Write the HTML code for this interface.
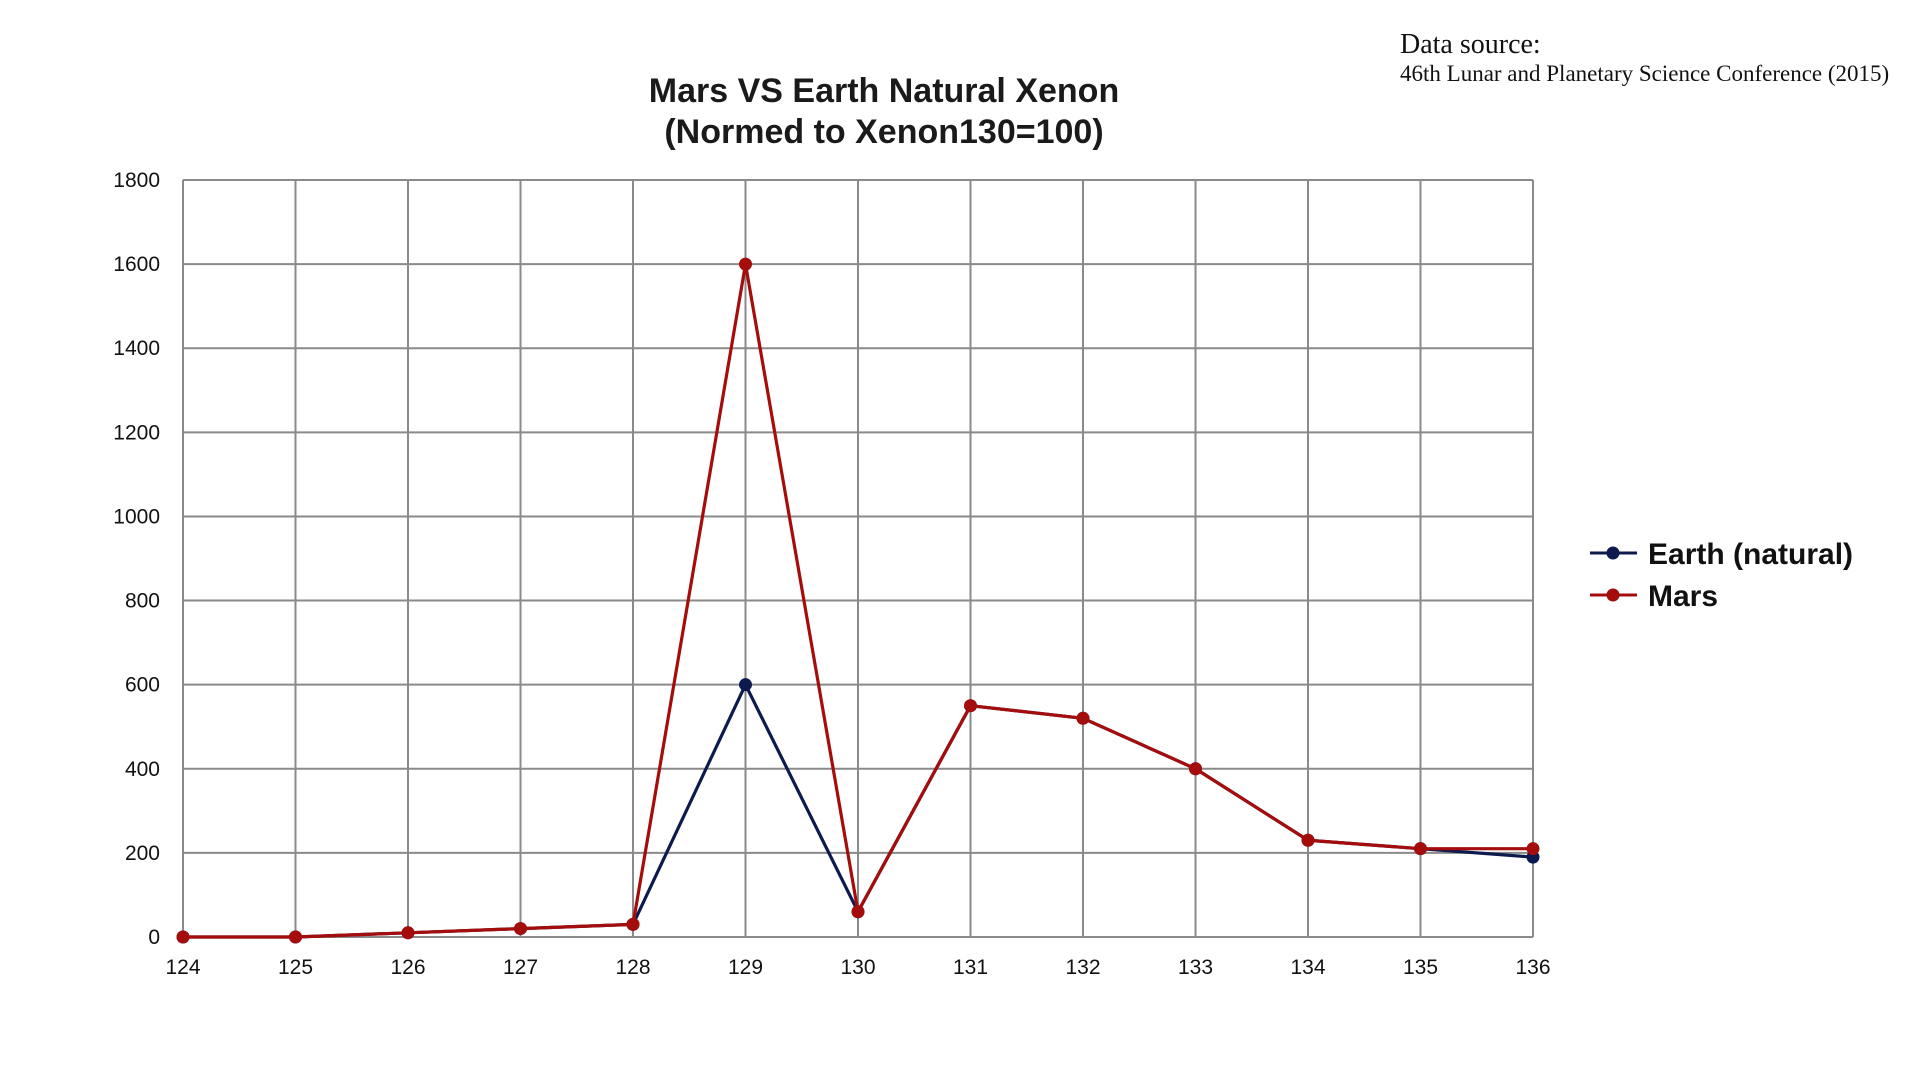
<!DOCTYPE html>
<html><head><meta charset="utf-8"><style>
html,body{margin:0;padding:0;background:#fff;width:1920px;height:1080px;overflow:hidden}
svg text{font-family:"Liberation Sans",sans-serif}
</style></head><body>
<svg id="chart" width="1920" height="1080" xmlns="http://www.w3.org/2000/svg">
<text x="884" y="102" text-anchor="middle" font-size="34" font-weight="bold" fill="#1a1a1a">Mars VS Earth Natural Xenon</text>
<text x="884" y="143" text-anchor="middle" font-size="34" font-weight="bold" fill="#1a1a1a">(Normed to Xenon130=100)</text>
<text x="1400" y="53" font-size="28" fill="#111" style="font-family:'Liberation Serif',serif">Data source:</text>
<text x="1400" y="81" font-size="23" fill="#111" style="font-family:'Liberation Serif',serif">46th Lunar and Planetary Science Conference (2015)</text>
<g id="grid"></g><g id="series"></g>
<g>
<line x1="1590" y1="553" x2="1637" y2="553" stroke="#0d1a4d" stroke-width="3"/><circle cx="1613" cy="553" r="6.5" fill="#0d1a4d"/>
<text x="1648" y="564" font-size="30" font-weight="bold" fill="#111">Earth (natural)</text>
<line x1="1590" y1="595" x2="1637" y2="595" stroke="#a50d0d" stroke-width="3"/><circle cx="1613" cy="595" r="6.5" fill="#a50d0d"/>
<text x="1648" y="606" font-size="30" font-weight="bold" fill="#111">Mars</text>
</g>
</svg>
<script>
const categories=[124,125,126,127,128,129,130,131,132,133,134,135,136];
const earthValues=[0,0,10,20,30,600,60,550,520,400,230,210,190];
const marsValues=[0,0,10,20,30,1600,60,550,520,400,230,210,210];
const yTicks=[0,200,400,600,800,1000,1200,1400,1600,1800];
const NS='http://www.w3.org/2000/svg';
const L=183,R=1533,T=180,B=937,YMAX=1800;
const xs=i=>L+(R-L)*i/(categories.length-1);
const ys=v=>B-(B-T)*v/YMAX;
function mk(tag,a,parent){const e=document.createElementNS(NS,tag);for(const k in a)e.setAttribute(k,a[k]);parent.appendChild(e);return e;}
const g=document.getElementById('grid');
yTicks.forEach(v=>{
  const l=mk('line',{x1:L,x2:R,y1:ys(v),y2:ys(v),stroke:'#8a8a8a','stroke-width':2},g);
  
  
  const t=mk('text',{x:160,y:ys(v)+7,'text-anchor':'end','font-size':21,fill:'#111'},g);
  t.textContent=v;
  
  
});
categories.forEach((c,i)=>{
  const l=mk('line',{x1:xs(i),x2:xs(i),y1:T,y2:B,stroke:'#8a8a8a','stroke-width':2},g);
  
  
  const t=mk('text',{x:xs(i),y:974,'text-anchor':'middle','font-size':21,fill:'#111'},g);
  t.textContent=c;
  
  
});
const s=document.getElementById('series');
[[earthValues,'#0d1a4d','earth'],[marsValues,'#a50d0d','mars']].forEach(([vals,col,nm])=>{
  const p=mk('polyline',{points:vals.map((v,i)=>xs(i)+','+ys(v)).join(' '),fill:'none',stroke:col,'stroke-width':3.2,'stroke-linejoin':'round'},s);
  
  
  vals.forEach((v,i)=>{
    const c=mk('circle',{cx:xs(i),cy:ys(v),r:6.5,fill:col},s);
    
    
  });
});
</script>
</body></html>
